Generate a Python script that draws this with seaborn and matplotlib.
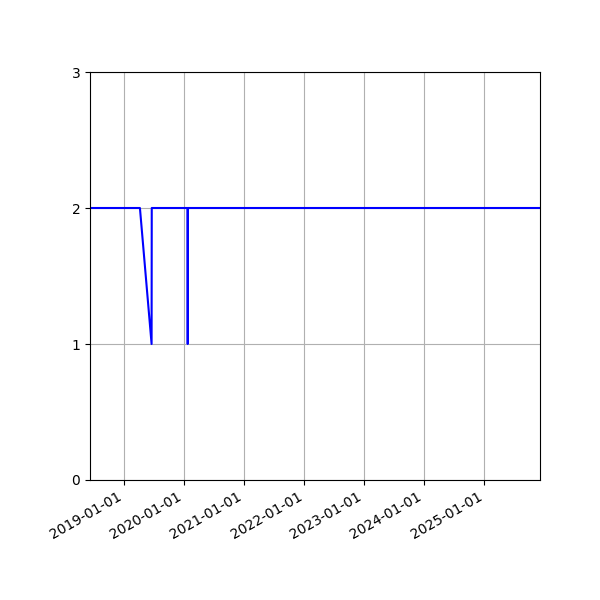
import pandas as pd
import matplotlib
matplotlib.use("Agg")
import matplotlib.pyplot as plt
import matplotlib.dates as mdates
import seaborn as sns

dates = ["2018-06-06", "2019-04-06", "2019-06-16", "2019-06-17",
         "2020-01-21", "2020-01-22", "2020-01-23", "2025-12-06"]
values = [2, 2, 1, 2, 2, 1, 2, 2]

df = pd.DataFrame({"date": pd.to_datetime(dates), "value": values})

fig, ax = plt.subplots(figsize=(6, 6), dpi=100)
sns.lineplot(data=df, x="date", y="value", color="blue", ax=ax)
ax.set_xlim(df["date"].min(), df["date"].max())
ax.set_ylim(0, 3)
ax.set_yticks([0, 1, 2, 3])
ax.xaxis.set_major_locator(mdates.YearLocator())
ax.xaxis.set_major_formatter(mdates.DateFormatter("%Y-%m-%d"))
ax.set_xlabel("")
ax.set_ylabel("")
ax.grid(True)
fig.autofmt_xdate()
fig.subplots_adjust(left=0.15, right=0.9, top=0.88, bottom=0.2)
fig.savefig("out.png")
